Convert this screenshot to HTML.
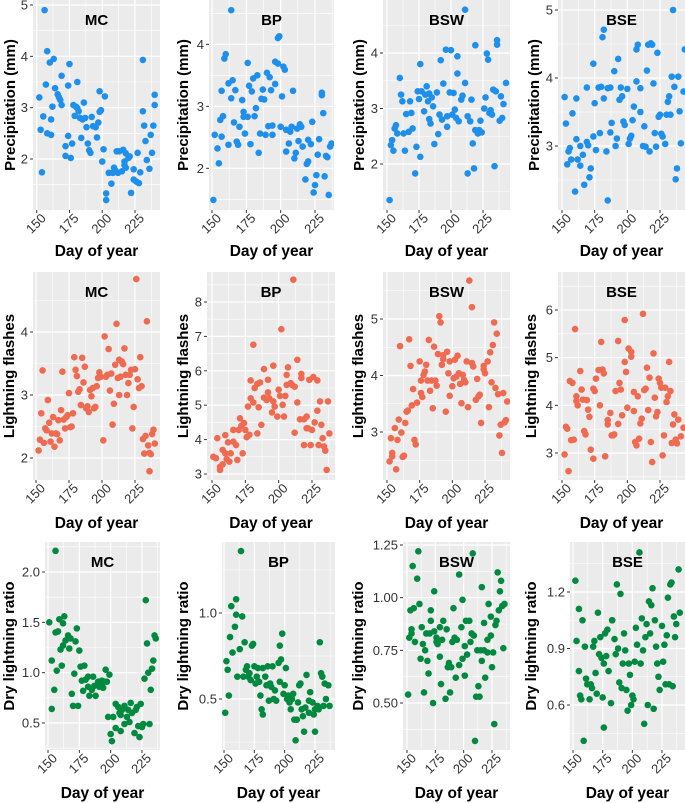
<!DOCTYPE html>
<html><head><meta charset="utf-8">
<style>
html,body{margin:0;padding:0;background:#fff;}
svg{display:block;font-family:"Liberation Sans",Arial,sans-serif;}
</style></head>
<body>
<svg id="fig" width="685" height="803" viewBox="0 0 685 803" xmlns="http://www.w3.org/2000/svg"></svg>
<script>
// ---------- DATA ----------
const mcPrecipDay=[156,152,153,154,155,157,158,158,160,161,161,163,162,164,166,167,168,169,169,172,172,174,174,175,176,177,178,179,180,181,181,182,183,184,185,186,187,188,189,190,191,192,193,195,196,197,198,198,199,201,202,200,203,203,205,207,208,209,210,211,212,213,215,216,217,217,218,218,220,221,222,224,224,226,227,228,229,231,231,232,233,234,236,237,238,239,240,240];
const mcPrecipVal=[4.9,3.2,2.57,1.74,2.83,3.45,4.1,2.5,3.88,2.77,2.47,3.95,3.02,3.38,3.26,3.2,3.15,3.62,3.05,2.25,2.06,2.45,3.43,3.85,2.02,2.3,3.05,2.84,3.02,2.99,3.5,2.93,2.8,2.41,2.77,3.1,2.8,2.62,2.3,2.17,2.12,2.82,2.64,2.62,2.42,2.71,3.32,2.92,2.95,2.19,3.22,1.95,1.33,1.2,1.73,1.52,1.73,1.83,1.78,2.15,1.73,2.15,1.76,2.18,1.95,1.88,1.83,2.11,2.02,2.05,1.34,1.6,1.8,1.56,2.12,1.53,1.74,3.93,2.93,2.65,2.35,1.98,1.81,2.47,2.12,2.65,3.25,3.05];
const bpPrecipDay=[151,152,154,155,156,157,157,158,159,160,162,162,164,164,165,166,167,168,169,170,172,173,173,174,176,176,177,178,179,180,181,182,183,184,185,186,187,188,189,190,191,192,193,194,194,196,196,198,199,198,200,201,202,203,204,204,206,207,208,209,210,211,212,213,214,215,216,218,219,220,220,222,223,224,225,226,227,228,230,230,231,232,233,234,235,236,237];
const bpPrecipVal=[1.49,2.54,2.32,2.08,2.78,3.25,2.51,2.84,3.77,3.84,3.37,2.38,3.13,4.55,3.42,2.74,3.26,2.43,2.38,2.67,3.1,2.83,2.91,2.56,3.7,2.83,3.33,2.39,3.24,3.45,2.84,2.97,3.5,2.25,2.56,3.12,3.27,3.11,2.54,3.54,2.68,3.47,3.26,2.69,2.54,3.36,3.72,4.1,4.13,3.69,2.67,3.16,3.64,3.59,2.62,2.27,2.4,2.59,2.67,3.25,2.16,2.25,2.64,2.44,2.71,2.67,2.35,1.82,2.07,2.46,2.11,2.39,2.75,1.61,1.73,1.89,2.22,2.47,3.18,3.22,2.89,1.87,2.2,2.18,1.57,2.35,2.4];
const bswPrecipDay=[152,153,154,155,156,157,158,160,161,162,163,164,165,167,168,169,170,172,173,174,175,176,176,177,179,180,181,182,183,183,184,185,186,187,189,190,191,192,193,194,196,197,197,199,200,201,202,203,204,205,205,206,208,209,211,211,213,213,215,216,217,218,219,219,221,222,223,224,226,227,228,229,230,231,232,233,234,235,236,236,238,239,240,241,243];
const bswPrecipVal=[1.35,2.34,2.43,2.24,2.64,2.7,2.55,3.55,3.25,3.13,2.55,2.24,2.9,2.58,3.13,2.92,2.64,1.83,2.31,3.31,3.17,2.13,3.8,3.31,2.95,3.25,3.4,3.13,2.81,3.27,2.73,3.2,3.04,2.36,3.29,2.54,2.89,3.87,2.8,3.45,4.06,2.86,2.67,3.29,4.05,2.89,3.28,2.98,2.83,3.94,3.63,2.77,3.16,3.23,3.46,4.78,2.86,1.83,2.77,3.16,2.37,1.92,2.61,4.14,2.55,2.61,2.78,2.57,3.0,3.2,3.99,3.88,2.92,2.97,2.89,3.34,1.96,3.31,4.23,4.15,2.78,3.22,2.83,3.08,3.46];
const bsePrecipDay=[152,153,154,155,156,157,158,160,161,161,162,164,164,166,167,169,169,170,171,172,174,174,175,176,178,179,180,181,182,182,184,185,185,187,187,188,190,191,192,193,194,195,196,197,198,200,201,202,203,204,205,207,207,208,210,210,212,213,214,215,216,217,218,219,220,221,222,223,224,225,226,227,229,230,231,232,233,234,235,236,237,238,239,240,241,243,244];
const bsePrecipVal=[3.72,3.33,2.73,2.92,2.97,2.8,3.48,2.33,3.7,3.1,2.8,3.0,2.71,2.87,2.43,3.06,3.86,3.01,2.54,2.67,3.14,4.21,3.63,2.94,3.86,3.19,3.87,4.6,3.7,4.71,2.92,2.2,3.85,3.86,3.2,3.34,4.1,3.0,3.11,4.28,3.68,3.86,3.73,3.36,3.31,3.84,3.03,3.11,3.15,3.38,3.58,3.95,4.42,4.49,3.85,3.5,3.0,3.29,2.99,4.11,4.49,2.92,4.51,4.49,3.92,3.19,2.99,4.37,3.43,3.46,3.18,3.14,3.03,3.46,3.65,3.73,3.46,4.02,5.0,3.87,2.51,2.67,4.02,3.51,3.04,3.8,4.42];
const mcFlashDay=[152,153,154,155,156,157,158,159,160,161,162,163,164,165,166,167,168,169,170,171,172,173,174,175,176,177,178,179,180,181,182,183,184,185,186,187,188,189,190,191,192,193,194,195,196,197,198,199,201,202,203,204,205,206,207,208,209,210,211,212,213,213,214,215,216,217,218,219,220,221,222,223,224,225,226,227,228,229,230,231,232,233,234,235,236,236,237,238,239,240];
const mcFlashVal=[2.12,2.29,2.71,3.39,2.24,2.47,2.44,2.92,2.56,2.26,2.39,2.65,2.18,2.39,2.38,2.6,2.28,2.76,3.37,2.61,2.47,2.65,2.68,3.03,2.49,2.5,2.71,3.6,3.4,3.3,3.05,3.09,2.84,3.59,3.2,3.45,2.79,2.82,2.73,3.08,2.98,3.11,2.79,2.81,3.14,3.27,3.36,3.29,2.28,3.93,3.29,3.32,3.73,3.07,3.34,2.53,2.86,3.48,4.13,3.27,3.56,3.0,3.29,3.53,3.49,3.74,3.32,3.0,3.19,3.32,3.4,2.47,2.81,3.41,4.84,3.25,3.11,3.6,3.14,2.3,2.07,2.35,4.17,2.2,2.08,1.79,2.06,2.38,2.45,2.23];
const bpFlashDay=[151,153,154,156,156,158,158,160,160,161,162,163,164,166,166,168,169,170,171,172,173,174,175,176,177,178,179,179,181,181,182,184,184,185,186,187,189,189,191,192,192,193,195,196,196,197,199,200,201,202,203,204,205,206,206,207,209,210,211,212,212,214,214,216,217,217,219,219,221,221,222,223,224,225,226,227,229,229,230,231,232,233,234,235,236,237,238];
const bpFlashVal=[3.5,3.46,4.04,3.21,3.12,3.28,3.7,4.13,3.6,3.43,3.92,3.36,3.6,4.28,3.94,3.84,3.41,4.28,4.62,4.4,3.6,4.48,4.28,4.07,4.96,4.14,5.2,5.72,5.08,6.76,5.5,5.62,4.18,4.94,5.66,4.43,5.22,6.05,5.15,5.74,5.37,5.2,4.79,6.15,5.11,4.96,4.67,5.45,5.27,7.21,5.01,4.67,5.27,5.59,5.88,6.1,5.64,5.59,8.65,5.54,4.2,5.08,6.32,4.59,5.91,5.79,4.59,3.84,4.67,4.33,4.33,5.74,3.84,4.28,5.82,4.5,5.72,4.84,3.84,5.11,4.43,4.04,3.8,3.68,3.12,5.11,4.18];
const bswFlashDay=[152,153,154,154,156,157,158,159,160,161,162,163,164,165,166,167,168,169,170,171,172,173,175,176,176,177,178,179,180,181,182,183,184,185,186,187,188,189,190,191,192,193,193,195,196,197,198,198,200,201,202,203,204,205,206,207,208,209,210,211,212,213,215,215,216,218,219,220,221,222,224,224,225,227,228,229,230,231,232,233,234,235,236,237,238,239,240,241,242];
const bswFlashVal=[2.48,2.89,2.57,2.63,3.07,2.34,2.86,3.22,4.52,2.99,2.56,2.58,3.16,3.36,3.38,4.64,4.17,3.47,3.76,2.86,2.78,3.52,4.25,3.69,3.91,3.62,4.01,4.07,4.19,3.91,4.63,3.73,3.91,3.42,4.51,3.91,3.82,4.38,5.05,4.94,4.19,4.29,4.36,3.36,4.42,4.04,3.64,4.25,3.81,3.95,4.28,3.98,4.35,4.04,3.85,3.51,4.01,3.92,3.88,4.25,3.44,5.68,5.21,4.22,4.16,3.57,3.94,3.63,3.66,3.16,4.17,4.11,4.04,4.25,3.44,4.41,3.88,4.54,4.94,3.78,4.74,3.67,2.94,3.13,2.63,3.69,3.17,3.21,3.54];
const bseFlashDay=[152,153,154,155,156,157,158,159,160,161,161,162,164,165,166,167,168,169,170,171,172,174,174,175,176,178,179,180,181,182,183,185,185,187,188,189,190,191,193,193,194,195,196,198,198,199,200,201,203,203,205,205,206,207,208,209,210,211,212,213,214,215,216,217,218,219,220,221,222,223,224,225,226,227,228,229,230,231,232,233,234,235,236,237,238,239,241,243];
const bseFlashVal=[2.97,3.55,3.51,2.62,4.51,3.27,4.47,3.28,5.6,4.09,4.19,4.0,4.72,4.33,4.12,3.46,3.39,4.11,3.91,3.76,3.07,2.88,4.35,4.3,4.56,4.74,4.0,5.33,4.75,4.67,2.93,3.6,3.69,3.84,3.37,3.37,3.39,4.3,3.61,5.35,4.47,4.33,3.79,5.79,4.91,4.7,3.95,5.19,5.02,5.12,4.28,3.88,3.23,3.16,4.19,3.3,3.62,3.72,5.92,4.32,4.35,4.79,3.9,4.58,3.23,2.81,5.09,4.16,3.77,3.86,4.56,4.47,4.37,2.95,3.37,4.37,4.07,4.19,4.91,4.3,3.21,3.6,3.81,3.28,3.2,3.7,3.35,3.53];
const mcDryDay=[151,153,153,155,156,156,157,158,159,160,161,162,162,163,164,166,167,168,169,170,171,172,173,174,175,176,177,178,179,180,182,182,183,185,186,187,188,190,191,192,193,194,195,196,197,198,199,200,201,202,204,204,206,207,208,208,209,211,211,213,214,215,216,217,219,220,221,222,223,224,225,226,227,228,229,230,231,232,233,234,235,236];
const mcDryVal=[1.5,1.12,0.64,0.83,2.21,1.4,1.02,1.41,1.53,1.23,1.07,1.49,1.27,1.56,1.32,1.37,1.24,1.34,0.79,0.67,0.99,1.31,1.44,0.67,1.22,1.06,0.92,0.82,1.07,0.93,0.86,0.96,0.77,0.83,0.96,0.87,0.77,0.91,0.86,0.88,0.92,0.85,0.91,1.03,0.91,0.56,0.98,0.39,0.32,0.56,0.69,0.45,0.66,0.6,0.42,0.58,0.63,0.49,0.67,0.56,0.63,0.51,0.7,0.6,0.4,0.63,0.66,0.47,0.36,0.69,0.46,0.49,0.94,1.72,1.29,1.0,0.49,0.83,1.04,1.12,1.37,1.34];
const bpDryDay=[151,152,153,154,155,156,157,159,160,160,161,163,164,165,166,167,168,169,170,171,172,173,174,175,176,177,178,179,180,181,182,182,184,185,186,187,188,189,190,191,192,193,195,196,196,197,198,199,200,201,202,203,204,205,206,207,208,209,210,211,212,213,214,215,216,217,218,220,220,221,223,224,225,225,227,228,229,230,231,232,233,234,236,237];
const bpDryVal=[0.42,0.72,0.67,0.52,0.86,1.04,0.77,0.92,1.08,0.99,0.63,0.79,1.36,0.98,0.63,0.83,0.67,0.69,0.63,0.65,0.61,0.81,0.82,0.69,0.59,0.63,0.68,0.6,0.52,0.44,0.41,0.68,0.63,0.58,0.69,0.49,0.59,0.57,0.69,0.5,0.55,0.49,0.71,0.81,0.6,0.73,0.88,0.53,0.58,0.68,0.5,0.52,0.48,0.44,0.5,0.53,0.38,0.26,0.38,0.48,0.58,0.59,0.44,0.4,0.31,0.45,0.64,0.49,0.42,0.54,0.48,0.41,0.44,0.31,0.46,0.44,0.83,0.65,0.63,0.46,0.59,0.5,0.58,0.46];
const bswDryDay=[151,152,153,154,154,155,156,157,159,160,161,162,163,164,165,166,167,168,169,170,171,171,173,174,174,176,176,177,179,179,180,181,182,184,185,186,187,188,189,190,191,192,193,194,196,196,198,199,199,201,201,202,203,205,206,207,208,209,210,211,212,213,214,215,216,216,218,218,219,221,221,222,224,224,225,226,227,228,229,230,231,232,233,234,235,236];
const bswDryVal=[0.54,0.81,0.94,0.85,0.83,1.15,0.95,0.79,1.09,1.22,0.97,0.71,0.86,0.78,0.55,0.75,0.83,0.7,0.64,0.83,0.94,0.89,0.5,1.03,0.84,0.81,0.79,0.78,0.72,0.86,0.59,0.8,0.89,0.52,0.85,0.67,0.69,0.55,0.67,0.79,0.95,0.81,0.62,0.8,1.11,0.68,0.86,0.71,0.99,0.77,0.63,0.89,0.73,0.89,0.79,0.83,1.21,0.82,0.32,0.53,0.75,0.58,0.53,0.75,1.05,0.7,0.75,0.88,0.62,0.74,0.8,0.97,0.91,0.82,0.67,0.74,0.4,0.87,0.89,1.12,0.94,1.03,1.08,0.96,0.76,0.97];
const bseDryDay=[152,153,155,155,156,157,158,159,160,161,162,164,165,166,167,168,169,170,171,172,173,174,175,176,176,177,178,179,180,182,183,183,185,186,187,188,189,190,191,192,193,194,195,196,197,198,199,200,201,202,203,204,206,207,208,209,210,211,212,213,214,215,216,217,218,219,220,221,222,223,225,226,227,228,229,230,231,232,233,234,235,236,237,239,240];
const bseDryVal=[1.26,0.94,1.11,0.78,0.65,0.63,1.05,0.41,0.91,0.74,0.71,0.63,0.71,0.69,0.91,0.94,0.77,0.66,1.09,0.87,0.96,0.85,0.64,0.82,0.48,0.98,0.86,1.0,0.78,0.61,1.05,1.05,0.95,0.87,1.24,0.9,0.72,1.19,0.69,0.82,0.98,0.89,0.68,0.57,0.82,0.76,0.6,0.65,0.63,0.83,1.01,0.92,1.41,0.82,1.06,0.89,0.5,0.96,1.03,0.6,1.15,0.98,1.13,1.22,0.58,1.05,0.91,0.82,0.75,0.68,1.02,0.83,0.92,0.71,0.97,1.17,0.71,1.24,1.25,0.7,1.07,0.96,1.03,1.32,1.09];

const xTickValues=[150,175,200,225];
const panelTitles=["MC","BP","BSW","BSE","MC","BP","BSW","BSE","MC","BP","BSW","BSE"];
const yAxisTitles=["Precipitation (mm)","Lightning flashes","Dry lightning ratio"];
const yMajorTicks=[[2,3,4,5],[2,3,4],[2,3,4],[3,4,5],[2,3,4],[3,4,5,6,7,8],[3,4,5],[3,4,5,6],[0.5,1,1.5,2],[0.5,1],[0.5,0.75,1,1.25],[0.6,0.9,1.2]];
const yTickLabels=[["2","3","4","5"],["2","3","4"],["2","3","4"],["3","4","5"],["2","3","4"],["3","4","5","6","7","8"],["3","4","5"],["3","4","5","6"],["0.5","1.0","1.5","2.0"],["0.5","1.0"],["0.50","0.75","1.00","1.25"],["0.6","0.9","1.2"]];
const seriesDays=[mcPrecipDay,bpPrecipDay,bswPrecipDay,bsePrecipDay,mcFlashDay,bpFlashDay,bswFlashDay,bseFlashDay,mcDryDay,bpDryDay,bswDryDay,bseDryDay];
const seriesVals=[mcPrecipVal,bpPrecipVal,bswPrecipVal,bsePrecipVal,mcFlashVal,bpFlashVal,bswFlashVal,bseFlashVal,mcDryVal,bpDryVal,bswDryVal,bseDryVal];

// ---------- LAYOUT (pixel geometry, not data) ----------
const layout=[
 [33,160,0,210, 36.7,135, 5,5,2,159, 9],
 [209,334,0,210, 212,315, 4,44.3,2,168.3, 182],
 [383,510,0,210, 387,483, 4,53,2,164, 358],
 [558,685,0,210, 562,660, 5,10,3,146, 533],
 [33,160,272,480, 36,135, 4,332,2,458, 8],
 [207,335,272,480, 212,312, 8,302,3,474, 182],
 [383,510,272,480, 387,485, 5,319,3,432, 357],
 [558,685,272,480, 562,660, 6,310,3,453, 530],
 [45,160,542,750, 48,142, 2,572,0.5,723, 8],
 [222,335,542,750, 224,315, 1,613,0.5,699, 182],
 [403,510,542,750, 407,492, 1.25,545,0.5,703, 357],
 [570,685,542,750, 573,662, 1.2,592,0.6,705, 530]
];
const colors=["#1E8FEA","#EE6A50","#00893F"];
const dayTitleBaseline=[256,528,798];

const NS="http://www.w3.org/2000/svg";
const svg=document.getElementById('fig');
function mk(tag,attrs,parent){const e=document.createElementNS(NS,tag);for(const k in attrs)e.setAttribute(k,attrs[k]);(parent||svg).appendChild(e);return e;}

for(let p=0;p<12;p++){
  const L=layout[p];
  const [left,right,top,bottom,x150,x225,va,pa,vb,pb,ytx]=L;
  const row=Math.floor(p/4);
  const xs=d=>x150+(d-150)*(x225-x150)/75;
  const ys=v=>pa+(v-va)*(pb-pa)/(vb-va);
  const g=mk('g',{});
  
  
  const bg=mk('rect',{x:left,y:top,width:right-left,height:bottom-top,fill:'#EBEBEB'},g);
  
  
  const maj=yMajorTicks[p];
  const step=maj[1]-maj[0];
  for(let v=maj[0]-step*1.5;v<=maj[maj.length-1]+step*1.6;v+=step){
    const y=ys(v);
    if(y>top&&y<bottom){const l=mk('line',{x1:left,x2:right,y1:y,y2:y,stroke:'#fff','stroke-width':0.6},g);
      
      }
  }
  for(let d=137.5;d<=250;d+=25){
    const x=xs(d);
    if(x>left&&x<right){const l=mk('line',{x1:x,x2:x,y1:top,y2:bottom,stroke:'#fff','stroke-width':0.6},g);
      
      }
  }
  maj.forEach((v,i)=>{
    const y=ys(v);
    const l=mk('line',{x1:left,x2:right,y1:y,y2:y,stroke:'#fff','stroke-width':1.2},g);
    
    
    const t=mk('line',{x1:left-3,x2:left,y1:y,y2:y,stroke:'#333','stroke-width':1},g);
    
    
    const tx=mk('text',{x:left-5,y:y+4.5,'text-anchor':'end','font-size':13,fill:'#333'},g);
    tx.textContent=yTickLabels[p][i];
    
    
  });
  xTickValues.forEach(d=>{
    const x=xs(d);
    const l=mk('line',{x1:x,x2:x,y1:top,y2:bottom,stroke:'#fff','stroke-width':1.2},g);
    
    
    const t=mk('line',{x1:x,x2:x,y1:bottom,y2:bottom+3,stroke:'#333','stroke-width':1},g);
    
    
    const tx=mk('text',{transform:'translate('+(x+10)+','+(bottom+9)+') rotate(-45)','text-anchor':'end','font-size':13,fill:'#333'},g);
    tx.textContent=String(d);
    
    
  });
  const clipId='clip'+p;
  const cp=mk('clipPath',{id:clipId},g);
  mk('rect',{x:left,y:top,width:right-left,height:bottom-top},cp);
  const pts=mk('g',{'clip-path':'url(#'+clipId+')'},g);
  
  
  const days=seriesDays[p],vals=seriesVals[p];
  for(let i=0;i<days.length;i++){
    const c=mk('circle',{cx:xs(days[i]),cy:ys(vals[i]),r:3.3,fill:colors[row]},pts);
    
    
  }
  const pt=mk('text',{x:(left+right)/2,y:top+25,'text-anchor':'middle','font-size':15,'font-weight':'bold',fill:'#000'},g);
  pt.textContent=panelTitles[p];
  
  
  const yt=mk('text',{transform:'translate('+(ytx+6)+','+((top+bottom)/2)+') rotate(-90)','text-anchor':'middle','font-size':15,'font-weight':'bold',fill:'#000'},g);
  yt.textContent=yAxisTitles[row];
  
  
  const xt=mk('text',{x:(left+right)/2,y:dayTitleBaseline[row],'text-anchor':'middle','font-size':15.5,'font-weight':'bold',fill:'#000'},g);
  xt.textContent='Day of year';
  
  
}
</script>
</body></html>
